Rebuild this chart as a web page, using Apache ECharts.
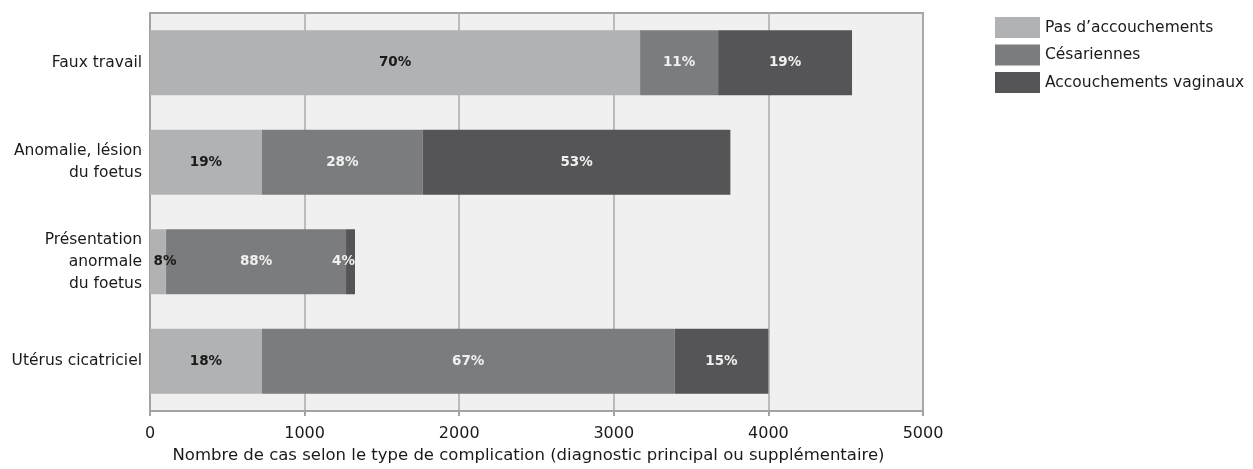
<!DOCTYPE html>
<html>
<head>
<meta charset="utf-8">
<script src="https://cdn.jsdelivr.net/npm/echarts@6/dist/echarts.min.js"></script>
<style>
  html, body { margin: 0; padding: 0; background: #ffffff; }
  #chart { width: 1253px; height: 469px; }
</style>
</head>
<body>
<div id="chart"></div>
<script>
// Complication types (top to bottom)
const categories = [
  'Faux travail',
  'Anomalie, lésion\ndu foetus',
  'Présentation\nanormale\ndu foetus',
  'Utérus cicatriciel'
];
// Number of cases by delivery outcome
const pasAccouchements = [3170, 724, 104, 724];
const cesariennes = [505, 1040, 1164, 2669];
const vaginaux = [866, 1990, 58, 607];
const seriesNames = ['Pas d\u2019accouchements', 'Césariennes', 'Accouchements vaginaux'];
const xTicks = [0, 1000, 2000, 3000, 4000, 5000];

const totals = categories.map((_, i) => pasAccouchements[i] + cesariennes[i] + vaginaux[i]);
const pct = (p) => Math.round(p.value / totals[p.dataIndex] * 100) + '%';

const TEXT_FONT = '"DejaVu Sans", sans-serif';
const colors = ['#b1b2b4', '#7b7c7e', '#555557'];

function makeSeries(name, values, color, textColor, special) {
  return {
    name: name,
    type: 'bar',
    stack: 'total',
    barWidth: 65,
    itemStyle: { color: color },
    data: values.map((v, i) => {
      const d = { value: v };
      if (special && special[i]) d.label = special[i];
      return d;
    }),
    label: {
      show: true,
      position: 'inside',
      formatter: pct,
      color: textColor,
      fontFamily: TEXT_FONT,
      fontWeight: 'bold',
      fontSize: 13.5
    },
    emphasis: { disabled: true }
  };
}

const chart = echarts.init(document.getElementById('chart'), null, { renderer: 'canvas' });
chart.setOption({
  animation: false,
  color: colors,
  textStyle: { fontFamily: TEXT_FONT },
  legend: {
    orient: 'vertical',
    left: 990,
    top: 12,
    itemWidth: 45,
    itemHeight: 21,
    itemGap: 6.5,
    icon: 'rect',
    selectedMode: false,
    data: seriesNames,
    textStyle: { fontFamily: TEXT_FONT, fontSize: 15.5, color: '#1a1a1a' }
  },
  grid: {
    left: 150,
    right: 330,
    top: 13,
    bottom: 58,
    show: true,
    backgroundColor: '#eff0ef',
    borderColor: '#a3a3a3',
    borderWidth: 2
  },
  xAxis: {
    type: 'value',
    min: xTicks[0],
    max: xTicks[xTicks.length - 1],
    interval: 1000,
    name: 'Nombre de cas selon le type de complication (diagnostic principal ou supplémentaire)',
    nameLocation: 'middle',
    nameGap: 35,
    nameTextStyle: { fontFamily: TEXT_FONT, fontSize: 16.5, color: '#1a1a1a', padding: [0, 16, 0, 0] },
    axisLine: { show: true, lineStyle: { color: '#a3a3a3', width: 2 } },
    axisTick: { show: true, length: 5, lineStyle: { color: '#a3a3a3', width: 2 } },
    axisLabel: {
      fontFamily: TEXT_FONT, fontSize: 16, color: '#1a1a1a', margin: 15,
      formatter: (v) => String(v)
    },
    splitLine: { show: true, lineStyle: { color: '#ababab', width: 1.5 } }
  },
  yAxis: {
    type: 'category',
    inverse: true,
    data: categories,
    axisLine: { show: true, lineStyle: { color: '#a3a3a3', width: 2 } },
    axisTick: { show: false },
    axisLabel: { fontFamily: TEXT_FONT, fontSize: 15.5, color: '#1a1a1a', margin: 8, lineHeight: 22, align: 'right' }
  },
  series: [
    // narrow segment: label nudged right so it stays readable
    makeSeries(seriesNames[0], pasAccouchements, colors[0], '#1a1a1a',
      [null, null, { offset: [7, 0] }, null]),
    makeSeries(seriesNames[1], cesariennes, colors[1], '#f0f0f0'),
    makeSeries(seriesNames[2], vaginaux, colors[2], '#f0f0f0',
      [null, null, { position: 'insideRight', distance: 0 }, null])
  ]
});
</script>
</body>
</html>
